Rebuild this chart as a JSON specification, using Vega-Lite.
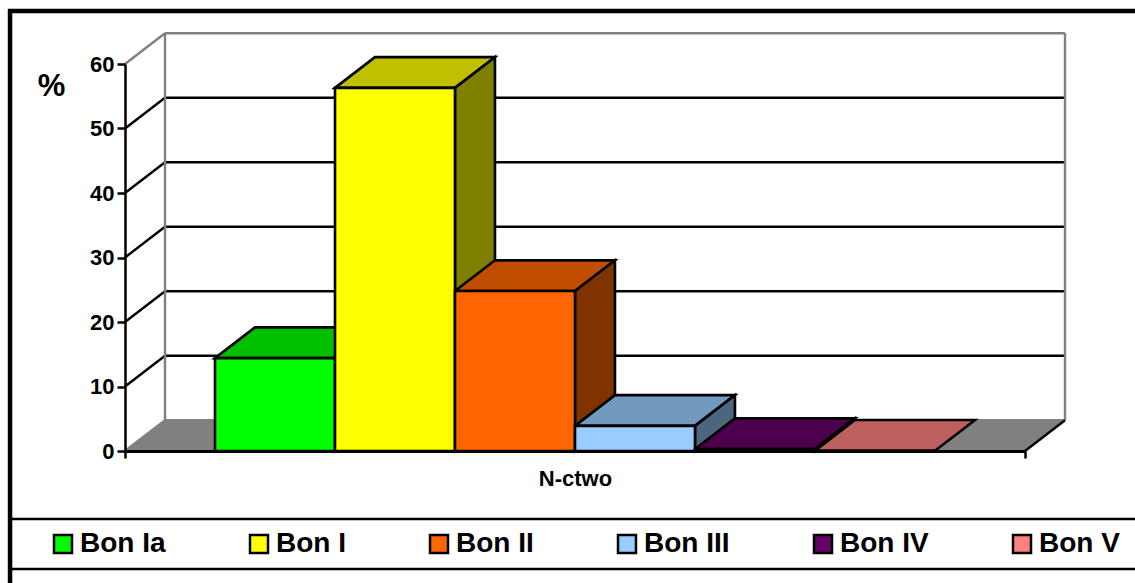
{
"$schema":"https://vega.github.io/schema/vega-lite/v6.json",
"width":900,"height":387,"autosize":{"type":"none"},
"padding":{"left":125,"top":64,"right":110,"bottom":132},
"background":"white",
"config":{"view":{"stroke":null},"font":"Liberation Sans"},
"datasets":{
"bars":[
{"series":"Bon Ia","value":14.4,"start":0,"end":1},
{"series":"Bon I","value":56.3,"start":1,"end":2},
{"series":"Bon II","value":24.8,"start":2,"end":3},
{"series":"Bon III","value":3.9,"start":3,"end":4},
{"series":"Bon IV","value":0.3,"start":4,"end":5},
{"series":"Bon V","value":0.05,"start":5,"end":6}],
"floor":[{"x":-0.75,"top":0,"base":0},{"x":-0.4167,"top":4.76,"base":0},{"x":6.75,"top":4.76,"base":0},{"x":7.0833,"top":4.76,"base":4.76}],
"faces":[
{"id":"a","face":"Ia top","x":0,"top":14.4,"base":14.4},{"id":"a","face":"Ia top","x":0.333,"top":19.16,"base":14.4},{"id":"a","face":"Ia top","x":1,"top":19.16,"base":14.4},{"id":"a","face":"Ia top","x":1.333,"top":19.16,"base":19.16},
{"id":"b","face":"Ia side","x":1,"top":14.4,"base":0},{"id":"b","face":"Ia side","x":1.333,"top":19.16,"base":4.76},
{"id":"c","face":"I top","x":1,"top":56.3,"base":56.3},{"id":"c","face":"I top","x":1.333,"top":61.06,"base":56.3},{"id":"c","face":"I top","x":2,"top":61.06,"base":56.3},{"id":"c","face":"I top","x":2.333,"top":61.06,"base":61.06},
{"id":"d","face":"I side","x":2,"top":56.3,"base":0},{"id":"d","face":"I side","x":2.333,"top":61.06,"base":4.76},
{"id":"e","face":"II top","x":2,"top":24.8,"base":24.8},{"id":"e","face":"II top","x":2.333,"top":29.56,"base":24.8},{"id":"e","face":"II top","x":3,"top":29.56,"base":24.8},{"id":"e","face":"II top","x":3.333,"top":29.56,"base":29.56},
{"id":"f","face":"II side","x":3,"top":24.8,"base":0},{"id":"f","face":"II side","x":3.333,"top":29.56,"base":4.76},
{"id":"g","face":"III top","x":3,"top":3.9,"base":3.9},{"id":"g","face":"III top","x":3.333,"top":8.66,"base":3.9},{"id":"g","face":"III top","x":4,"top":8.66,"base":3.9},{"id":"g","face":"III top","x":4.333,"top":8.66,"base":8.66},
{"id":"h","face":"III side","x":4,"top":3.9,"base":0},{"id":"h","face":"III side","x":4.333,"top":8.66,"base":4.76},
{"id":"i","face":"IV top","x":4,"top":0.3,"base":0.3},{"id":"i","face":"IV top","x":4.333,"top":5.06,"base":0.3},{"id":"i","face":"IV top","x":5,"top":5.06,"base":0.3},{"id":"i","face":"IV top","x":5.333,"top":5.06,"base":5.06},
{"id":"j","face":"IV side","x":5,"top":0.3,"base":0},{"id":"j","face":"IV side","x":5.333,"top":5.06,"base":4.76},
{"id":"k","face":"V top","x":5,"top":0.05,"base":0.05},{"id":"k","face":"V top","x":5.333,"top":4.81,"base":0.05},{"id":"k","face":"V top","x":6,"top":4.81,"base":0.05},{"id":"k","face":"V top","x":6.333,"top":4.81,"base":4.81}],
"lines":[
{"id":"d10","tone":"grid","x":-0.75,"y":10},{"id":"d10","tone":"grid","x":-0.4167,"y":14.76},
{"id":"d20","tone":"grid","x":-0.75,"y":20},{"id":"d20","tone":"grid","x":-0.4167,"y":24.76},
{"id":"d30","tone":"grid","x":-0.75,"y":30},{"id":"d30","tone":"grid","x":-0.4167,"y":34.76},
{"id":"d40","tone":"grid","x":-0.75,"y":40},{"id":"d40","tone":"grid","x":-0.4167,"y":44.76},
{"id":"d50","tone":"grid","x":-0.75,"y":50},{"id":"d50","tone":"grid","x":-0.4167,"y":54.76},
{"id":"g10","tone":"grid","x":-0.4167,"y":14.76},{"id":"g10","tone":"grid","x":7.0833,"y":14.76},
{"id":"g20","tone":"grid","x":-0.4167,"y":24.76},{"id":"g20","tone":"grid","x":7.0833,"y":24.76},
{"id":"g30","tone":"grid","x":-0.4167,"y":34.76},{"id":"g30","tone":"grid","x":7.0833,"y":34.76},
{"id":"g40","tone":"grid","x":-0.4167,"y":44.76},{"id":"g40","tone":"grid","x":7.0833,"y":44.76},
{"id":"g50","tone":"grid","x":-0.4167,"y":54.76},{"id":"g50","tone":"grid","x":7.0833,"y":54.76},
{"id":"d60","tone":"wall","x":-0.75,"y":60},{"id":"d60","tone":"wall","x":-0.4167,"y":64.76},
{"id":"g60","tone":"wall","x":-0.4167,"y":64.76},{"id":"g60","tone":"wall","x":7.0833,"y":64.76},
{"id":"wl","tone":"wall","x":-0.4167,"y":4.76},{"id":"wl","tone":"wall","x":-0.4167,"y":64.76},
{"id":"wr","tone":"wall","x":7.0833,"y":4.76},{"id":"wr","tone":"wall","x":7.0833,"y":64.76},
{"id":"d0","tone":"wall","x":-0.75,"y":0},{"id":"d0","tone":"wall","x":-0.4167,"y":4.76},
{"id":"g0","tone":"wall","x":-0.4167,"y":4.76},{"id":"g0","tone":"wall","x":7.0833,"y":4.76},
{"id":"fr","tone":"grid","x":6.75,"y":0},{"id":"fr","tone":"grid","x":7.0833,"y":4.76},
{"id":"b1","tone":"grid","x":-1.692,"y":-10.54},{"id":"b1","tone":"grid","x":7.667,"y":-10.54},
{"id":"b2","tone":"grid","x":-1.692,"y":-18.3},{"id":"b2","tone":"grid","x":7.667,"y":-18.3}],
"frame":[
{"id":"ft","x":-1.725,"y":68.2},{"id":"ft","x":7.667,"y":68.2},
{"id":"fl","x":-1.708,"y":68.5},{"id":"fl","x":-1.708,"y":-20.47}]
},
"encoding":{
"x":{"type":"quantitative","scale":{"domain":[-0.75,6.75],"nice":false,"zero":false}},
"y":{"type":"quantitative","scale":{"domain":[0,60],"nice":false,"zero":false}}
},
"layer":[
{"data":{"name":"floor"},"mark":{"type":"area","fill":"#808080","stroke":null},
 "encoding":{"x":{"field":"x","type":"quantitative","axis":{"values":[-0.75,6.75],"labels":false,"tickSize":7,"tickWidth":2.5,"tickColor":"black","domainWidth":3,"domainColor":"black","grid":false,"title":"N-ctwo","titleFont":"Liberation Sans","titleFontWeight":"bold","titleFontSize":22,"titlePadding":9,"zindex":1}},
 "y":{"field":"top","type":"quantitative","axis":{"values":[0,10,20,30,40,50,60],"tickSize":8,"tickWidth":2.5,"tickColor":"black","domainWidth":2.5,"domainColor":"black","grid":false,"labelFont":"Liberation Sans","labelFontWeight":"bold","labelFontSize":22,"labelColor":"black","labelPadding":3,"title":"%","titleFont":"Liberation Sans","titleFontWeight":"bold","titleFontSize":31,"titleAngle":0,"titleX":-74,"titleY":22,"titleBaseline":"middle","titleAlign":"center","zindex":1}},
 "y2":{"field":"base"}}},
{"data":{"name":"lines"},"mark":{"type":"line","clip":false,"strokeWidth":2.4},
 "encoding":{"x":{"field":"x","type":"quantitative"},"y":{"field":"y","type":"quantitative"},"detail":{"field":"id"},
 "stroke":{"field":"tone","type":"nominal","legend":null,"scale":{"domain":["grid","wall"],"range":["black","#808080"]}}}},
{"data":{"name":"frame"},"mark":{"type":"line","clip":false,"strokeWidth":4.5,"stroke":"black"},
 "encoding":{"x":{"field":"x","type":"quantitative"},"y":{"field":"y","type":"quantitative"},"detail":{"field":"id"}}},
{"data":{"name":"faces"},"mark":{"type":"area","stroke":"black","strokeWidth":2.6,"strokeJoin":"miter"},
 "encoding":{"x":{"field":"x","type":"quantitative"},"y":{"field":"top","type":"quantitative"},"y2":{"field":"base"},"detail":{"field":"id"},
 "fill":{"field":"face","type":"nominal","legend":null,"scale":{"domain":["Ia top","Ia side","I top","I side","II top","II side","III top","III side","IV top","IV side","V top"],"range":["#00C000","#008000","#C0C000","#808000","#C04D00","#803300","#7399BF","#4D6680","#4D004D","#330033","#BF6060"]}}}},
{"data":{"name":"bars"},"mark":{"type":"rect","stroke":"black","strokeWidth":2.6},
 "encoding":{"x":{"field":"start","type":"quantitative"},"x2":{"field":"end"},"y":{"field":"value","type":"quantitative"},"y2":{"datum":0},
 "fill":{"field":"series","type":"nominal","scale":{"domain":["Bon Ia","Bon I","Bon II","Bon III","Bon IV","Bon V"],"range":["#00FF00","#FFFF00","#FF6600","#99CCFF","#660066","#FF8080"]},
 "legend":{"orient":"none","direction":"horizontal","columns":6,"gridAlign":"none","columnPadding":79,"legendX":-76,"legendY":466,"padding":0,"title":null,"symbolType":"square","symbolSize":324,"symbolStrokeColor":"black","symbolStrokeWidth":2.5,"labelFont":"Liberation Sans","labelFontWeight":"bold","labelFontSize":28,"labelColor":"black","labelOffset":3,"labelLimit":200}}}}
],
"resolve":{"scale":{"fill":"independent"}}
}
